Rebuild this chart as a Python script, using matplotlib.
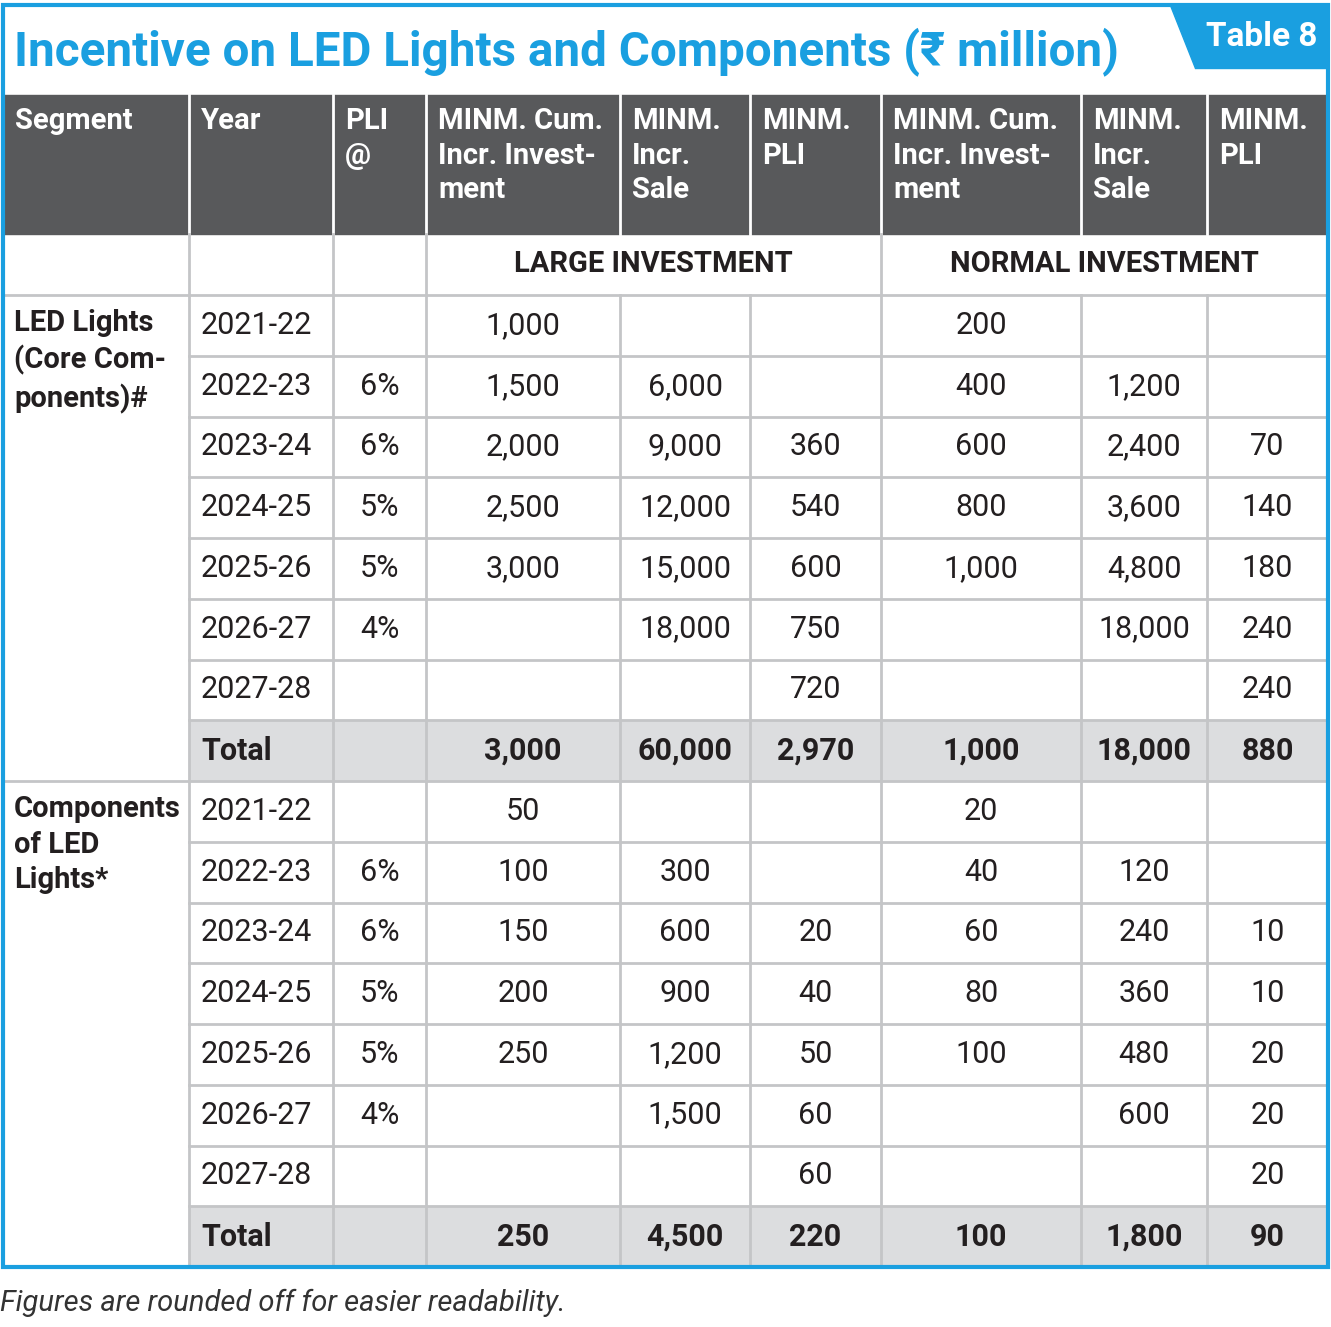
import matplotlib.pyplot as plt
from matplotlib.patches import Rectangle, Polygon

years = ['2021-22', '2022-23', '2023-24', '2024-25', '2025-26', '2026-27', '2027-28']
pli_rate = ['', '6%', '6%', '5%', '5%', '4%', '']

# LED Lights (core components)
led_large_inv = ['1,000', '1,500', '2,000', '2,500', '3,000', '', '']
led_large_sale = ['', '6,000', '9,000', '12,000', '15,000', '18,000', '']
led_large_pli = ['', '', '360', '540', '600', '750', '720']
led_norm_inv = ['200', '400', '600', '800', '1,000', '', '']
led_norm_sale = ['', '1,200', '2,400', '3,600', '4,800', '18,000', '']
led_norm_pli = ['', '', '70', '140', '180', '240', '240']
led_total = ['3,000', '60,000', '2,970', '1,000', '18,000', '880']

# Components of LED Lights
comp_large_inv = ['50', '100', '150', '200', '250', '', '']
comp_large_sale = ['', '300', '600', '900', '1,200', '1,500', '']
comp_large_pli = ['', '', '20', '40', '50', '60', '60']
comp_norm_inv = ['20', '40', '60', '80', '100', '', '']
comp_norm_sale = ['', '120', '240', '360', '480', '600', '']
comp_norm_pli = ['', '', '10', '10', '20', '20', '20']
comp_total = ['250', '4,500', '220', '100', '1,800', '90']

headers = ['Segment', 'Year', 'PLI\n@', 'MINM. Cum.\nIncr. Invest-\nment', 'MINM.\nIncr.\nSale',
           'MINM.\nPLI', 'MINM. Cum.\nIncr. Invest-\nment', 'MINM.\nIncr.\nSale', 'MINM.\nPLI']

W, H = 1331, 1327
fig = plt.figure(figsize=(W / 100, H / 100), dpi=100)
ax = fig.add_axes([0, 0, 1, 1])
ax.set_xlim(0, W)
ax.set_ylim(H, 0)
ax.axis('off')

FONT = ['Roboto', 'DejaVu Sans']
BLUE = '#1a9fe0'
DARK = '#58595b'
GRID = '#c4c5c7'
TOTAL = '#dcdddf'
TXT = '#231f20'

xs = [3, 189, 333, 426, 620, 750, 881, 1081, 1207, 1328]
y_head, y_sub, y_body = 95, 234, 295
rh = (1267 - 295) / 16
y_bot = 1267

# header band
ax.add_patch(Rectangle((xs[0], y_head), xs[-1] - xs[0], y_sub - y_head, color=DARK, zorder=1))
for x in xs[1:-1]:
    ax.plot([x, x], [y_head, y_sub], color='white', lw=2, zorder=2)
for i, h in enumerate(headers):
    ax.text(xs[i] + 12, y_head + 12, h, ha='left', va='top', color='white', fontsize=21,
            fontweight='bold', family=FONT, linespacing=1.3, zorder=3)

# total rows shading
for r in (7, 15):
    y0 = y_body + r * rh
    ax.add_patch(Rectangle((xs[1], y0), xs[-1] - xs[1], rh, color=TOTAL, zorder=1))

# grid lines
lw = 2
ax.plot([xs[0], xs[-1]], [y_body, y_body], color=GRID, lw=lw, zorder=2)
for r in range(1, 16):
    y = y_body + r * rh
    x0 = xs[0] if r == 8 else xs[1]
    ax.plot([x0, xs[-1]], [y, y], color=GRID, lw=lw, zorder=2)
for i, x in enumerate(xs[1:-1], start=1):
    top = y_sub if i in (1, 2, 3, 6) else y_body
    ax.plot([x, x], [top, y_bot], color=GRID, lw=lw, zorder=2)

# sub header
ax.text((xs[3] + xs[6]) / 2, (y_sub + y_body) / 2, 'LARGE INVESTMENT', ha='center', va='center',
        fontsize=21, fontweight='bold', family=FONT, color=TXT)
ax.text((xs[6] + xs[9]) / 2, (y_sub + y_body) / 2, 'NORMAL INVESTMENT', ha='center', va='center',
        fontsize=21, fontweight='bold', family=FONT, color=TXT)

groups = [
    ('LED Lights\n(Core Com-\nponents)#',
     [led_large_inv, led_large_sale, led_large_pli, led_norm_inv, led_norm_sale, led_norm_pli], led_total),
    ('Components\nof LED\nLights*',
     [comp_large_inv, comp_large_sale, comp_large_pli, comp_norm_inv, comp_norm_sale, comp_norm_pli], comp_total),
]
for g, (label, cols, tot) in enumerate(groups):
    base = y_body + g * 8 * rh
    ax.text(xs[0] + 11, base + 14, label, ha='left', va='top', fontsize=21, fontweight='bold',
            family=FONT, color=TXT, linespacing=1.35)
    for r in range(7):
        yc = base + (r + 0.5) * rh
        ax.text(xs[1] + 12, yc, years[r], ha='left', va='center', fontsize=22, family=FONT, color=TXT)
        ax.text((xs[2] + xs[3]) / 2, yc, pli_rate[r], ha='center', va='center', fontsize=22,
                family=FONT, color=TXT)
        for c, col in enumerate(cols):
            ax.text((xs[c + 3] + xs[c + 4]) / 2, yc, col[r], ha='center', va='center', fontsize=22,
                    family=FONT, color=TXT)
    yc = base + 7.5 * rh
    ax.text(xs[1] + 12, yc, 'Total', ha='left', va='center', fontsize=22, fontweight='bold',
            family=FONT, color=TXT)
    for c, v in enumerate(tot):
        ax.text((xs[c + 3] + xs[c + 4]) / 2, yc, v, ha='center', va='center', fontsize=22,
                fontweight='bold', family=FONT, color=TXT)

# outer blue frame
ax.add_patch(Rectangle((xs[0], 5), xs[-1] - xs[0], y_bot - 5, fill=False, ec=BLUE, lw=3, zorder=4))

# title
t = ax.text(14, 52, 'Incentive on LED Lights and Components (\u20b9 million)', ha='left', va='center',
            fontsize=42, fontweight='bold', family=FONT, color=BLUE)
fig.canvas.draw()
bb = t.get_window_extent()
if bb.width > 1106:
    t.set_fontsize(42 * 1106 / bb.width)

# tab
ax.add_patch(Polygon([[1170, 5], [1328, 5], [1328, 68], [1195, 68]], closed=True, color=BLUE, zorder=5))
ax.text(1262, 37, 'Table 8', ha='center', va='center', fontsize=24, fontweight='bold',
        family=FONT, color='white', zorder=6)

# footnote
ax.text(0, 1303, 'Figures are rounded off for easier readability.', ha='left', va='center',
        fontsize=21, style='italic', family=FONT, color='#333333')

fig.savefig('out.png', dpi=100)
